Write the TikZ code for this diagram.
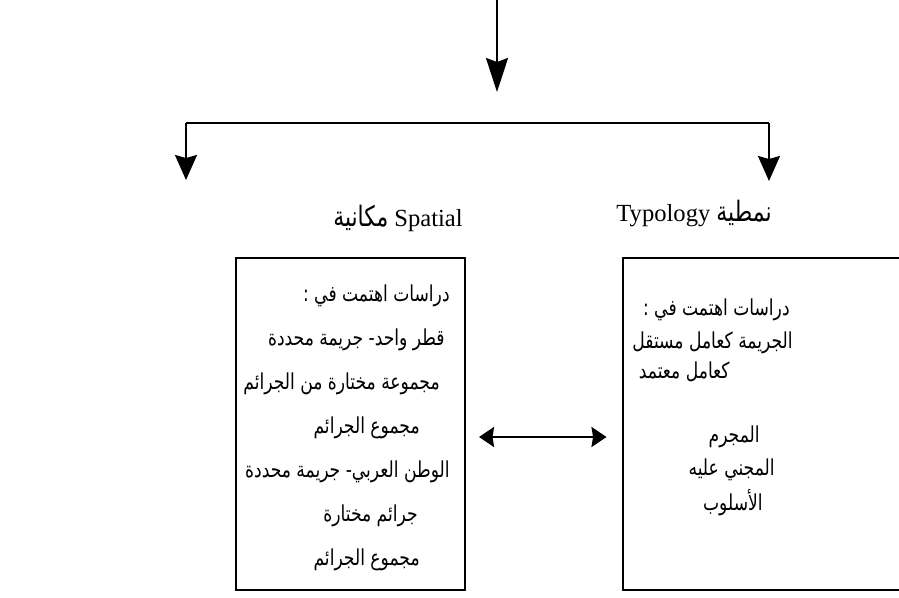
\documentclass[tikz,border=0pt]{standalone}
\usepackage{fontspec}
\setmainfont{Liberation Serif}
\newfontfamily\arabicfont[Script=Arabic,FakeStretch=0.78]{DejaVu Sans}
\TeXXeTstate=1
\usetikzlibrary{arrows.meta}
\usetikzlibrary{positioning}
\tikzstyle{branch}=[line width=1.2pt]
\tikzstyle{trunkarrow}=[branch,-{Stealth[length=0.68cm,width=0.44cm,inset=0.08cm]}]
\tikzstyle{sidearrow}=[branch,-{Stealth[length=0.5cm,width=0.44cm,inset=0.06cm]}]
\tikzstyle{linkarrow}=[branch,{Stealth[length=0.3cm,width=0.4cm,inset=0.03cm]}-{Stealth[length=0.3cm,width=0.4cm,inset=0.03cm]}]
\tikzstyle{panel}=[draw,line width=1.2pt,inner sep=0pt]
\tikzstyle{heading}=[inner sep=0pt,font=\fontsize{14}{16}\selectfont]
\tikzstyle{arline}=[anchor=east,inner sep=0pt,font=\arabicfont\fontsize{12.5}{15}\selectfont]
\newcommand{\artext}[1]{{\arabicfont\fontsize{16}{18}\selectfont\beginR #1\endR}}

\begin{document}
\begin{tikzpicture}[x=0.02cm,y=-0.02cm]
  \clip (0,0) rectangle (899,598);
  % trunk and split
  \coordinate (source) at (497,0);
  \coordinate (trunkend) at (497,92);
  \draw[trunkarrow] (source) -- (trunkend);
  \coordinate (splitL) at (186,123);
  \coordinate (splitR) at (769,123);
  \draw[branch,line width=1.5pt] (splitL) -- (splitR);
  \coordinate (tipL) at (186,180);
  \coordinate (tipR) at (769,181);
  \draw[sidearrow] (splitL) -- (tipL);
  \draw[sidearrow] (splitR) -- (tipR);
  % headings
  \node[heading] (spatial) at (398,218) {\artext{مكانية} Spatial};
  \node[heading] (typology) at (694,213) {Typology \artext{نمطية}};
  % boxes
  \node[panel,minimum width=4.58cm,minimum height=6.64cm] (spatialbox) at (350.5,424) {};
  \node[panel,minimum width=7.7cm,minimum height=6.64cm] (typologybox) at (1000,424) [anchor=center,xshift=-3.7cm] {};
  \draw[linkarrow,shorten <=0.26cm,shorten >=0.3cm] ([yshift=-0.26cm]spatialbox.east) -- ([yshift=-0.26cm]typologybox.west);
  % left box lines
  \foreach \txt/\xr/\yy [count=\i] in {دراسات اهتمت في :/450/296,
      قطر واحد- جريمة محددة/445/340,
      مجموعة مختارة من الجرائم/440/384,
      مجموع الجرائم/420/428,
      الوطن العربي- جريمة محددة/450/472,
      جرائم مختارة/418/516,
      مجموع الجرائم/420/560}
    \node[arline] (sp\i) at (\xr,\yy) {\beginR\txt\endR};
  % right box lines
  \foreach \txt/\xr/\yy [count=\i] in {دراسات اهتمت في :/790/310,
      الجريمة كعامل مستقل/793/343,
      كعامل معتمد/730/372,
      المجرم/760/437,
      المجني عليه/775/470,
      الأسلوب/763/503}
    \node[arline] (ty\i) at (\xr,\yy) {\beginR\txt\endR};
\end{tikzpicture}
\end{document}
